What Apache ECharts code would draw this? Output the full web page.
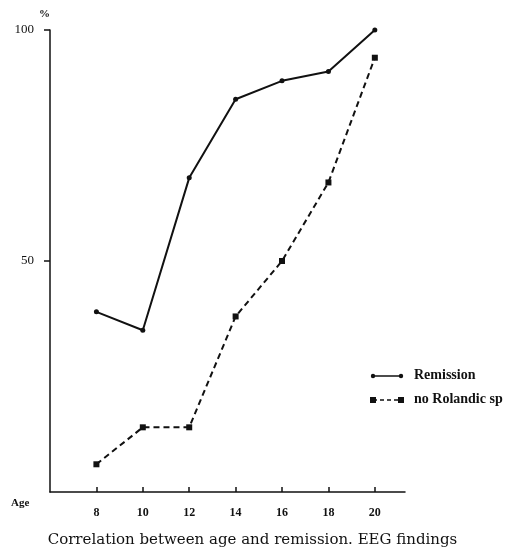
<!DOCTYPE html>
<html><head><meta charset="utf-8">
<script src="https://cdn.jsdelivr.net/npm/echarts@6/dist/echarts.min.js"></script>
<style>html,body{margin:0;padding:0;background:#fff}#c{width:505px;height:547px}</style>
</head><body><div id="c"></div>
<script>
const ages = [8, 10, 12, 14, 16, 18, 20];
const remission = [39, 35, 68, 85, 89, 91, 100];
const noRolandic = [6, 14, 14, 38, 50, 67, 94];
const yTicks = [50, 100];
const seriesNames = ['Remission', 'no Rolandic sp'];
const caption = 'Correlation between age and remission. EEG findings';

const font = '"Liberation Serif", "DejaVu Serif", serif';
const wideFont = '"DejaVu Serif", "Liberation Serif", serif';
const chart = echarts.init(document.getElementById('c'));
chart.setOption({
  animation: false,
  backgroundColor: '#fff',
  grid: { left: 50, right: 100, top: 30, bottom: 55 },
  xAxis: {
    type: 'value', min: 6, max: 21.3, interval: 2,
    axisLine: { lineStyle: { color: '#111', width: 1.5 } },
    axisTick: { inside: true, length: 5, customValues: ages, lineStyle: { color: '#111', width: 1.5 } },
    axisLabel: { customValues: ages, color: '#111', fontFamily: font, fontSize: 12, fontWeight: 'bold', margin: 15 },
    splitLine: { show: false }
  },
  yAxis: {
    type: 'value', min: 0, max: 100, interval: 50,
    name: '%', nameGap: 10, nameTextStyle: { color: '#111', fontFamily: font, fontSize: 11, fontWeight: 'bold', align: 'right', padding: [0, 0, 0, 0] },
    axisLine: { show: true, lineStyle: { color: '#111', width: 1.5 } },
    axisTick: { show: true, length: 6, customValues: yTicks, lineStyle: { color: '#111', width: 1.5 } },
    axisLabel: { customValues: yTicks, color: '#111', fontFamily: font, fontSize: 13, margin: 16 },
    splitLine: { show: false }
  },
  series: [
    {
      name: seriesNames[0], type: 'line', data: ages.map((a, i) => [a, remission[i]]),
      symbol: 'circle', symbolSize: 5, itemStyle: { color: '#111' },
      lineStyle: { color: '#111', width: 2 }
    },
    {
      name: seriesNames[1], type: 'line', data: ages.map((a, i) => [a, noRolandic[i]]),
      symbol: 'rect', symbolSize: 6, itemStyle: { color: '#111' },
      lineStyle: { color: '#111', width: 2, type: [6, 4] }
    }
  ],
  graphic: [
    { type: 'text', left: 11, top: 498, style: { text: 'Age', font: 'bold 11px ' + font, fill: '#111' } },
    { type: 'text', left: 'center', top: 533, style: { text: caption, font: '15px ' + wideFont, fill: '#111' } },
    { type: 'line', shape: { x1: 373, y1: 376, x2: 401, y2: 376 }, style: { stroke: '#111', lineWidth: 1.5 } },
    { type: 'circle', shape: { cx: 373, cy: 376, r: 2.2 }, style: { fill: '#111' } },
    { type: 'circle', shape: { cx: 401, cy: 376, r: 2.2 }, style: { fill: '#111' } },
    { type: 'text', left: 414, top: 368, style: { text: seriesNames[0], font: 'bold 14px ' + font, fill: '#111' } },
    { type: 'line', shape: { x1: 373, y1: 400, x2: 401, y2: 400 }, style: { stroke: '#111', lineWidth: 1.5, lineDash: [4, 3] } },
    { type: 'rect', shape: { x: 370, y: 397, width: 6, height: 6 }, style: { fill: '#111' } },
    { type: 'rect', shape: { x: 398, y: 397, width: 6, height: 6 }, style: { fill: '#111' } },
    { type: 'text', left: 414, top: 392, style: { text: seriesNames[1], font: 'bold 14px ' + font, fill: '#111' } }
  ]
});
</script></body></html>
